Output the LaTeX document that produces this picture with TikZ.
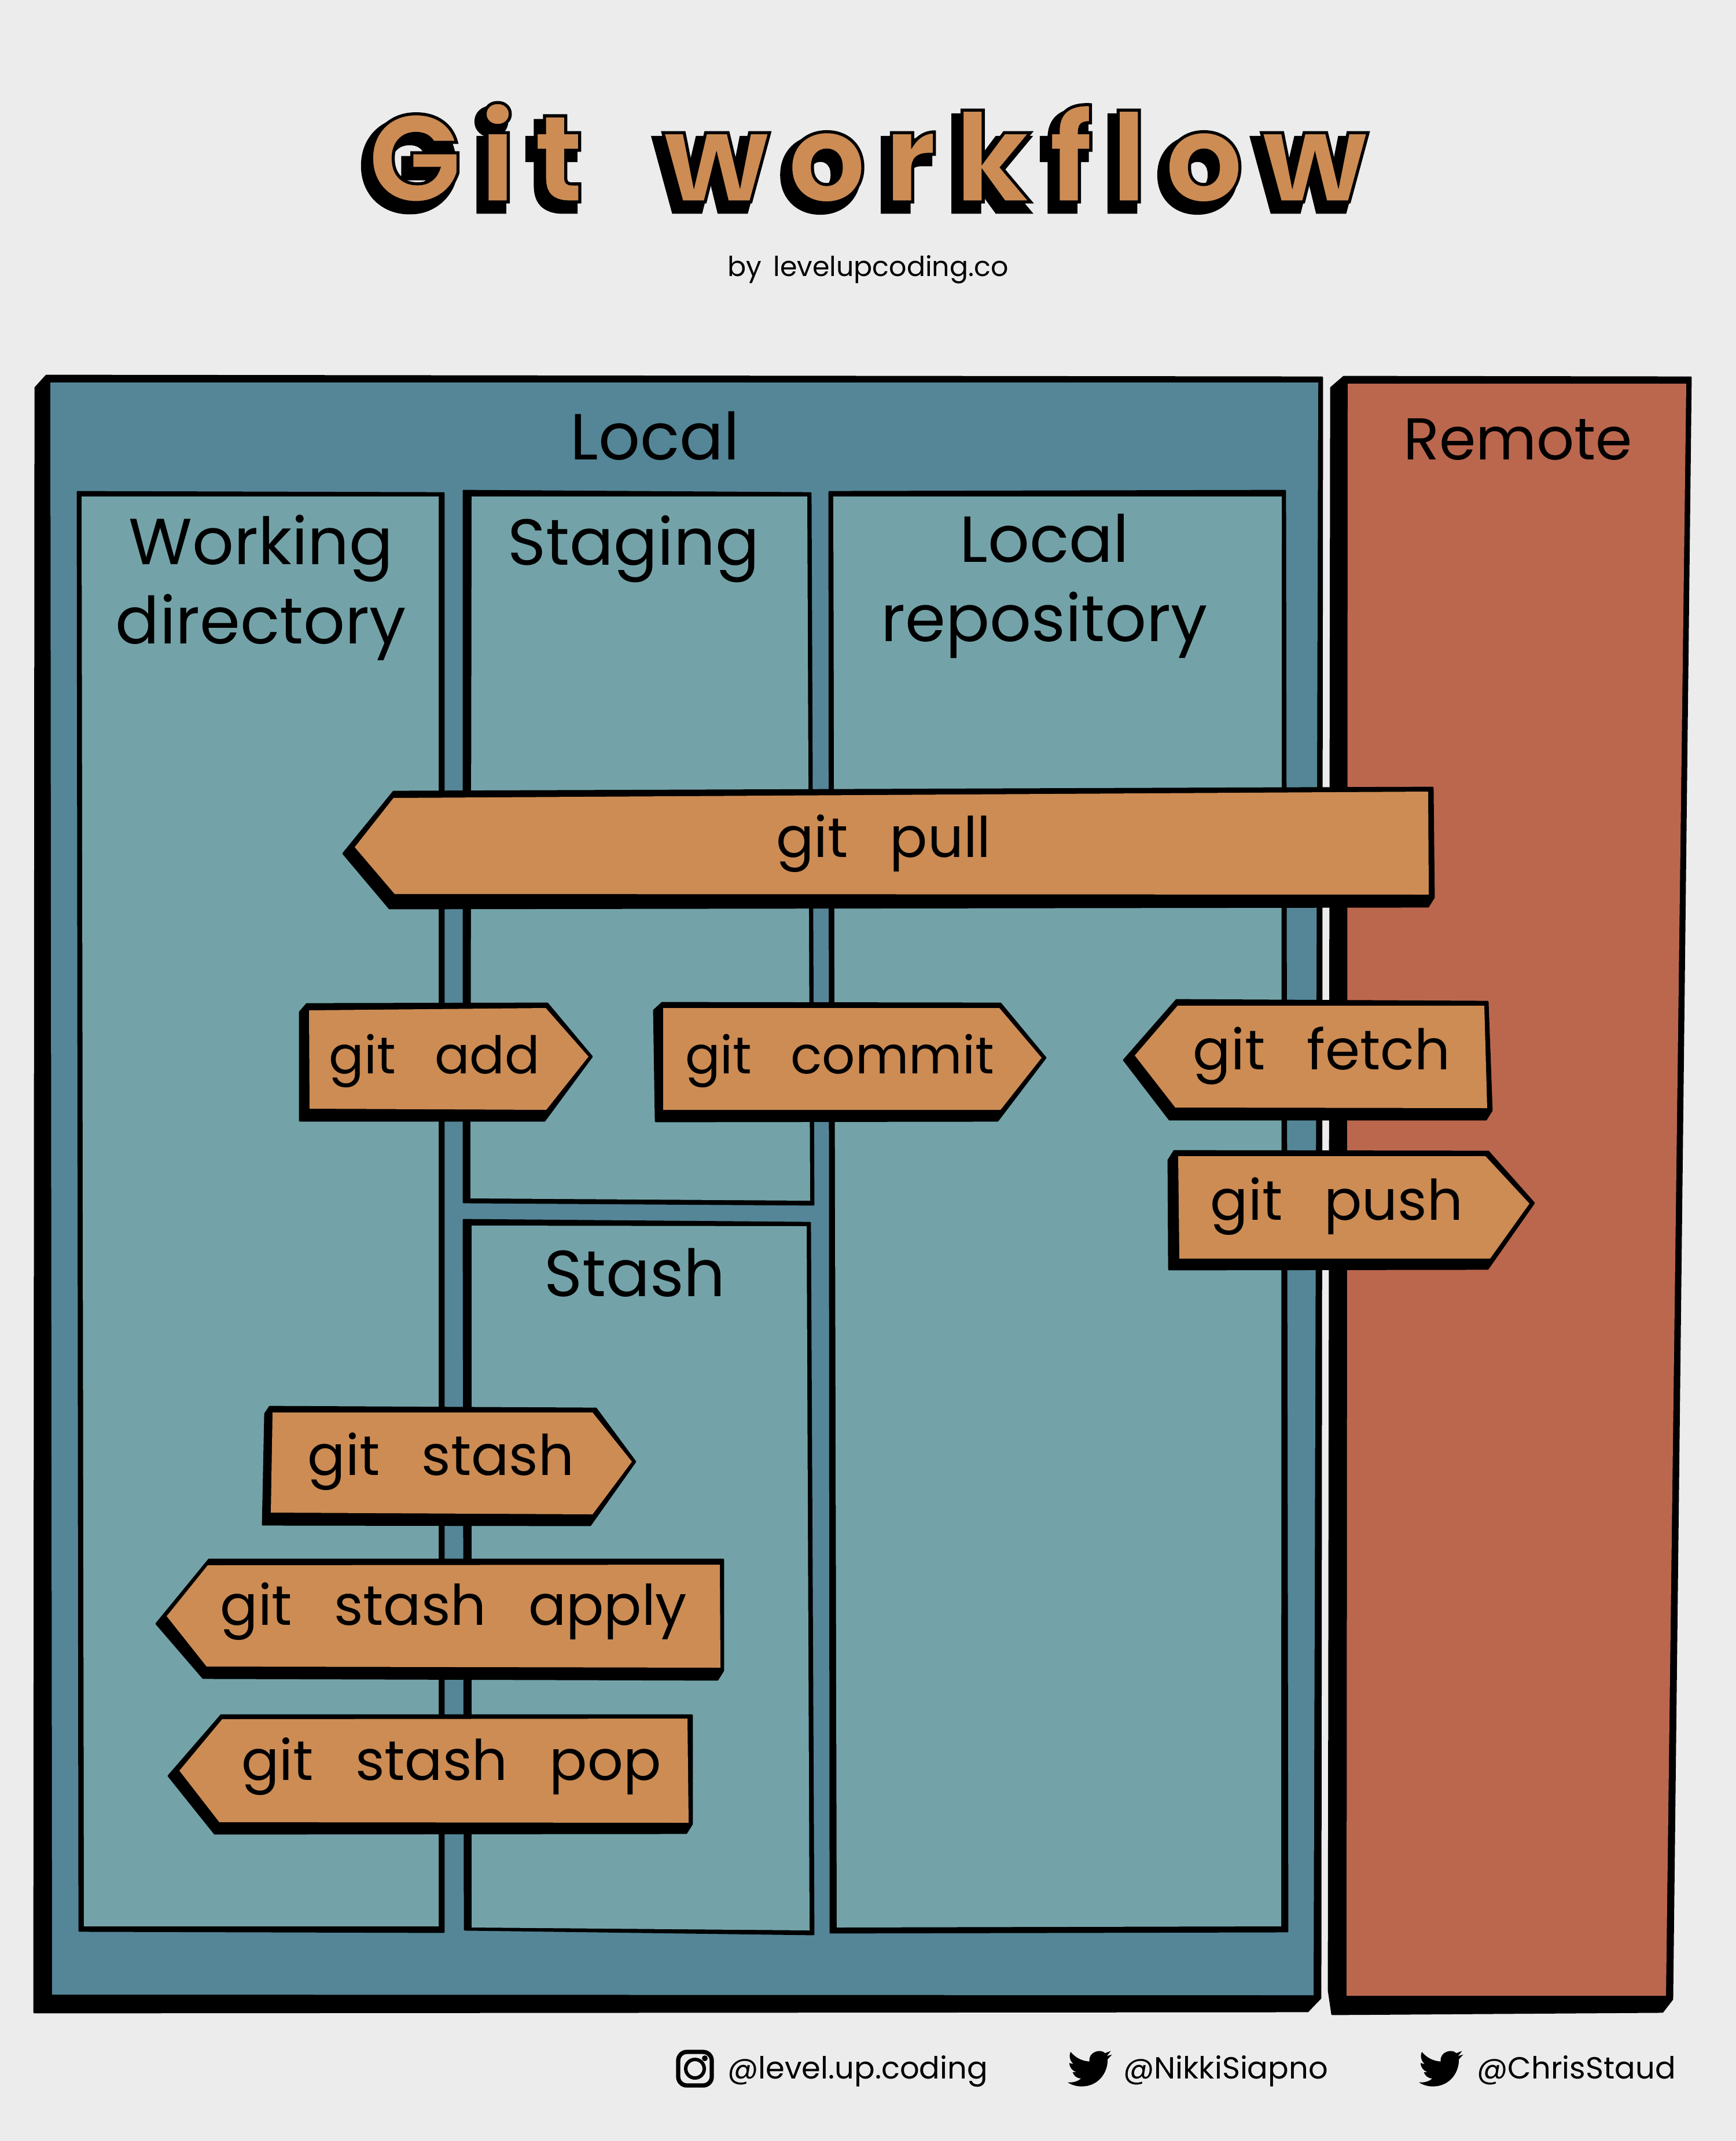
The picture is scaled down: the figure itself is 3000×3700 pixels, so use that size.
\documentclass[tikz,border=0pt]{standalone}
\usepackage{fontspec}
\setmainfont{Poppins}[WordSpace=2.8]
\newfontfamily\titlefont{Poppins}[LetterSpace=14, WordSpace=1.8]
\newfontfamily\footfont{Poppins}[WordSpace=1.6]
\definecolor{pagegray}{RGB}{236,236,236}
\definecolor{localblue}{RGB}{84,134,151}
\definecolor{boxteal}{RGB}{115,163,169}
\definecolor{remotered}{RGB}{187,103,78}
\definecolor{signorange}{RGB}{204,140,84}
\newcommand{\titlestroke}[1]{\special{pdf:code 2 Tr #1 w 0 0 0 RG}}
\newcommand{\titleplain}{\special{pdf:code 0 Tr}}
\newcommand{\shadowtext}[1]{\rlap{\kern-0.11cm\raisebox{-0.13cm}{\textcolor{black}{\titlestroke{4.2}#1\titleplain}}}\textcolor{signorange}{\titlestroke{1.5}#1\titleplain}}

\begin{document}
\begin{tikzpicture}[
    x=0.01cm, y=-0.01cm,
    ink/.style={fill=black, draw=black, line width=0.8pt, line join=round},
    panel/.style={fill=#1},
    signface/.style={fill=signorange},
    heading/.style={font=\fontsize{32}{38.7}\selectfont, align=center, inner sep=0pt, anchor=base},
    bigheading/.style={font=\fontsize{29}{36}\selectfont, inner sep=0pt, anchor=base},
    signtext/.style={font=\fontsize{27.5}{32}\selectfont, inner sep=0pt, anchor=base},
    signsmall/.style={font=\fontsize{25.5}{32}\selectfont, inner sep=0pt, anchor=base},
    foot/.style={font=\footfont\fontsize{15}{18}\selectfont, inner sep=0pt, anchor=base},
    birdicon/.pic={
        \fill[x=0.032cm, y=-0.032cm, black] (23.95,4.57) -- (21.13,5.35) -- (23.29,2.62) -- (20.16,3.81)
            .. controls (18,1.2) and (11,3) .. (11.78,8.29)
            .. controls (7.69,8.1) and (4.07,6.13) .. (1.64,3.16)
            .. controls (0.5,5) and (1.2,8) .. (3.16,9.73) -- (0.93,9.12)
            .. controls (1,11.5) and (2.5,13.5) .. (4.88,14) -- (2.67,14.09)
            .. controls (3.3,16) and (5,17.4) .. (7.27,17.51)
            .. controls (5.5,19) and (3,19.8) .. (0,19.54)
            .. controls (2.2,21) and (4.8,21.75) .. (7.56,21.75)
            .. controls (16.6,21.75) and (21.55,14.26) .. (21.55,7.77) -- (21.54,7.14) -- cycle;
    }
]
    \useasboundingbox (0,0) rectangle (3000,3700);
    \fill[pagegray] (0,0) rectangle (3000,3700);

    % title
    \node[inner sep=0pt, anchor=base, font=\titlefont\bfseries\fontsize{61}{70}\selectfont] (title) at (1500,349) {\shadowtext{Git workflow}};
    \node[foot, font=\footfont\fontsize{13.5}{16}\selectfont] (byline) at (1500,478) {by levelupcoding.co};

    % big panels
    \draw[ink] (80,649) -- (2285,652) -- (2282,3453) -- (2260,3476) -- (59,3478) -- (61,670) -- cycle;
    \fill[panel=localblue] (87,661) -- (2278,661) -- (2270,3448) -- (90,3447) -- cycle;
    \draw[ink] (2322,651) -- (2922,652) -- (2890,3455) -- (2873,3477) -- (2302,3481) -- (2296,3440) -- (2300,670) -- cycle;
    \fill[panel=remotered] (2329,663) -- (2914,663) -- (2879,3449) -- (2327,3449) -- cycle;
    \node[heading] (local) at (1132,794) {Local};
    \node[bigheading] (remote) at (2623,794) {Remote};

    % areas inside local
    \draw[ink] (134,850) -- (767,852) -- (767,3339) -- (137,3337) -- cycle;
    \fill[panel=boxteal] (141,858) -- (758,858) -- (758,3329) -- (145,3329) -- cycle;
    \draw[ink] (801,848) -- (1401,852) -- (1406,2082) -- (801,2078) -- cycle;
    \fill[panel=boxteal] (815,858) -- (1395,858) -- (1400,2075) -- (813,2071) -- cycle;
    \draw[ink] (801,2108) -- (1400,2113) -- (1406,3343) -- (803,3335) -- cycle;
    \fill[panel=boxteal] (815,2118) -- (1394,2119) -- (1399,3336) -- (815,3331) -- cycle;
    \draw[ink] (1433,850) -- (2221,848) -- (2225,3338) -- (1435,3340) -- cycle;
    \fill[panel=boxteal] (1440,858) -- (2215,858) -- (2214,3329) -- (1446,3331) -- cycle;
    \node[heading] (working) at (451,1112) {Working\\directory};
    \node[heading] (staging) at (1095,976) {Staging};
    \node[heading] (stash) at (1097,2240) {Stash};
    \node[heading] (repo) at (1805,1108) {Local\\repository};

    % signs
    \draw[ink] (593,1475) -- (680,1368) -- (2476,1361) -- (2478,1551) -- (2468,1567) -- (673,1570) -- cycle;
    \fill[signface] (613,1464) -- (680,1379) -- (2468,1368) -- (2469,1546) -- (682,1545) -- cycle;
    \node[signtext] (pull) at (1527,1481) {git pull};

    \draw[ink] (518,1749) -- (530,1735) -- (946,1734) -- (1023,1826) -- (941,1937) -- (518,1937) -- cycle;
    \fill[signface] (534,1746) -- (943,1742) -- (1017,1826) -- (944,1918) -- (535,1916) -- cycle;
    \node[signsmall] (add) at (751,1855) {git add};

    \draw[ink] (1130,1746) -- (1144,1733) -- (1729,1734) -- (1807,1828) -- (1724,1937) -- (1133,1938) -- cycle;
    \fill[signface] (1146,1742) -- (1727,1742) -- (1800,1828) -- (1729,1918) -- (1146,1918) -- cycle;
    \node[signsmall] (commit) at (1451,1855) {git commit};

    \draw[ink] (1942,1832) -- (2033,1728) -- (2571,1731) -- (2578,1919) -- (2568,1935) -- (2021,1935) -- cycle;
    \fill[signface] (1961,1824) -- (2035,1738) -- (2565,1738) -- (2570,1915) -- (2031,1914) -- cycle;
    \node[signtext] (fetch) at (2284,1848) {git fetch};

    \draw[ink] (2019,2005) -- (2029,1989) -- (2572,1990) -- (2651,2079) -- (2571,2193) -- (2020,2194) -- cycle;
    \fill[signface] (2036,1998) -- (2567,1998) -- (2643,2080) -- (2575,2175) -- (2038,2175) -- cycle;
    \node[signtext] (push) at (2310,2108) {git push};

    \draw[ink] (458,2443) -- (466,2431) -- (1030,2434) -- (1098,2526) -- (1020,2636) -- (454,2635) -- cycle;
    \fill[signface] (471,2441) -- (1024,2441) -- (1092,2526) -- (1024,2617) -- (468,2614) -- cycle;
    \node[signtext] (gitstash) at (762,2549) {git stash};

    \draw[ink] (270,2806) -- (361,2695) -- (1250,2695) -- (1250,2887) -- (1240,2903) -- (351,2900) -- cycle;
    \fill[signface] (288,2793) -- (359,2705) -- (1244,2704) -- (1245,2882) -- (357,2880) -- cycle;
    \node[signtext] (apply) at (784,2808) {git stash apply};

    \draw[ink] (291,3069) -- (382,2964) -- (1196,2964) -- (1196,3152) -- (1186,3168) -- (371,3169) -- cycle;
    \fill[signface] (310,3060) -- (384,2971) -- (1188,2970) -- (1190,3150) -- (379,3149) -- cycle;
    \node[signtext] (pop) at (780,3076) {git stash pop};

    % footer
    \draw[line width=2.1pt, rounded corners=1.5mm] (1172,3546) rectangle (1230,3604);
    \draw[line width=1.7pt] (1201,3575) circle (0.16cm);
    \fill (1218,3557) circle (0.05cm);
    \node[foot] (insta) at (1482,3592) {@level.up.coding};
    \pic at (1845,3536) {birdicon};
    \node[foot] (nikki) at (2118,3592) {@NikkiSiapno};
    \pic at (2452,3536) {birdicon};
    \node[foot] (chris) at (2724,3592) {@ChrisStaud};
\end{tikzpicture}
\end{document}
